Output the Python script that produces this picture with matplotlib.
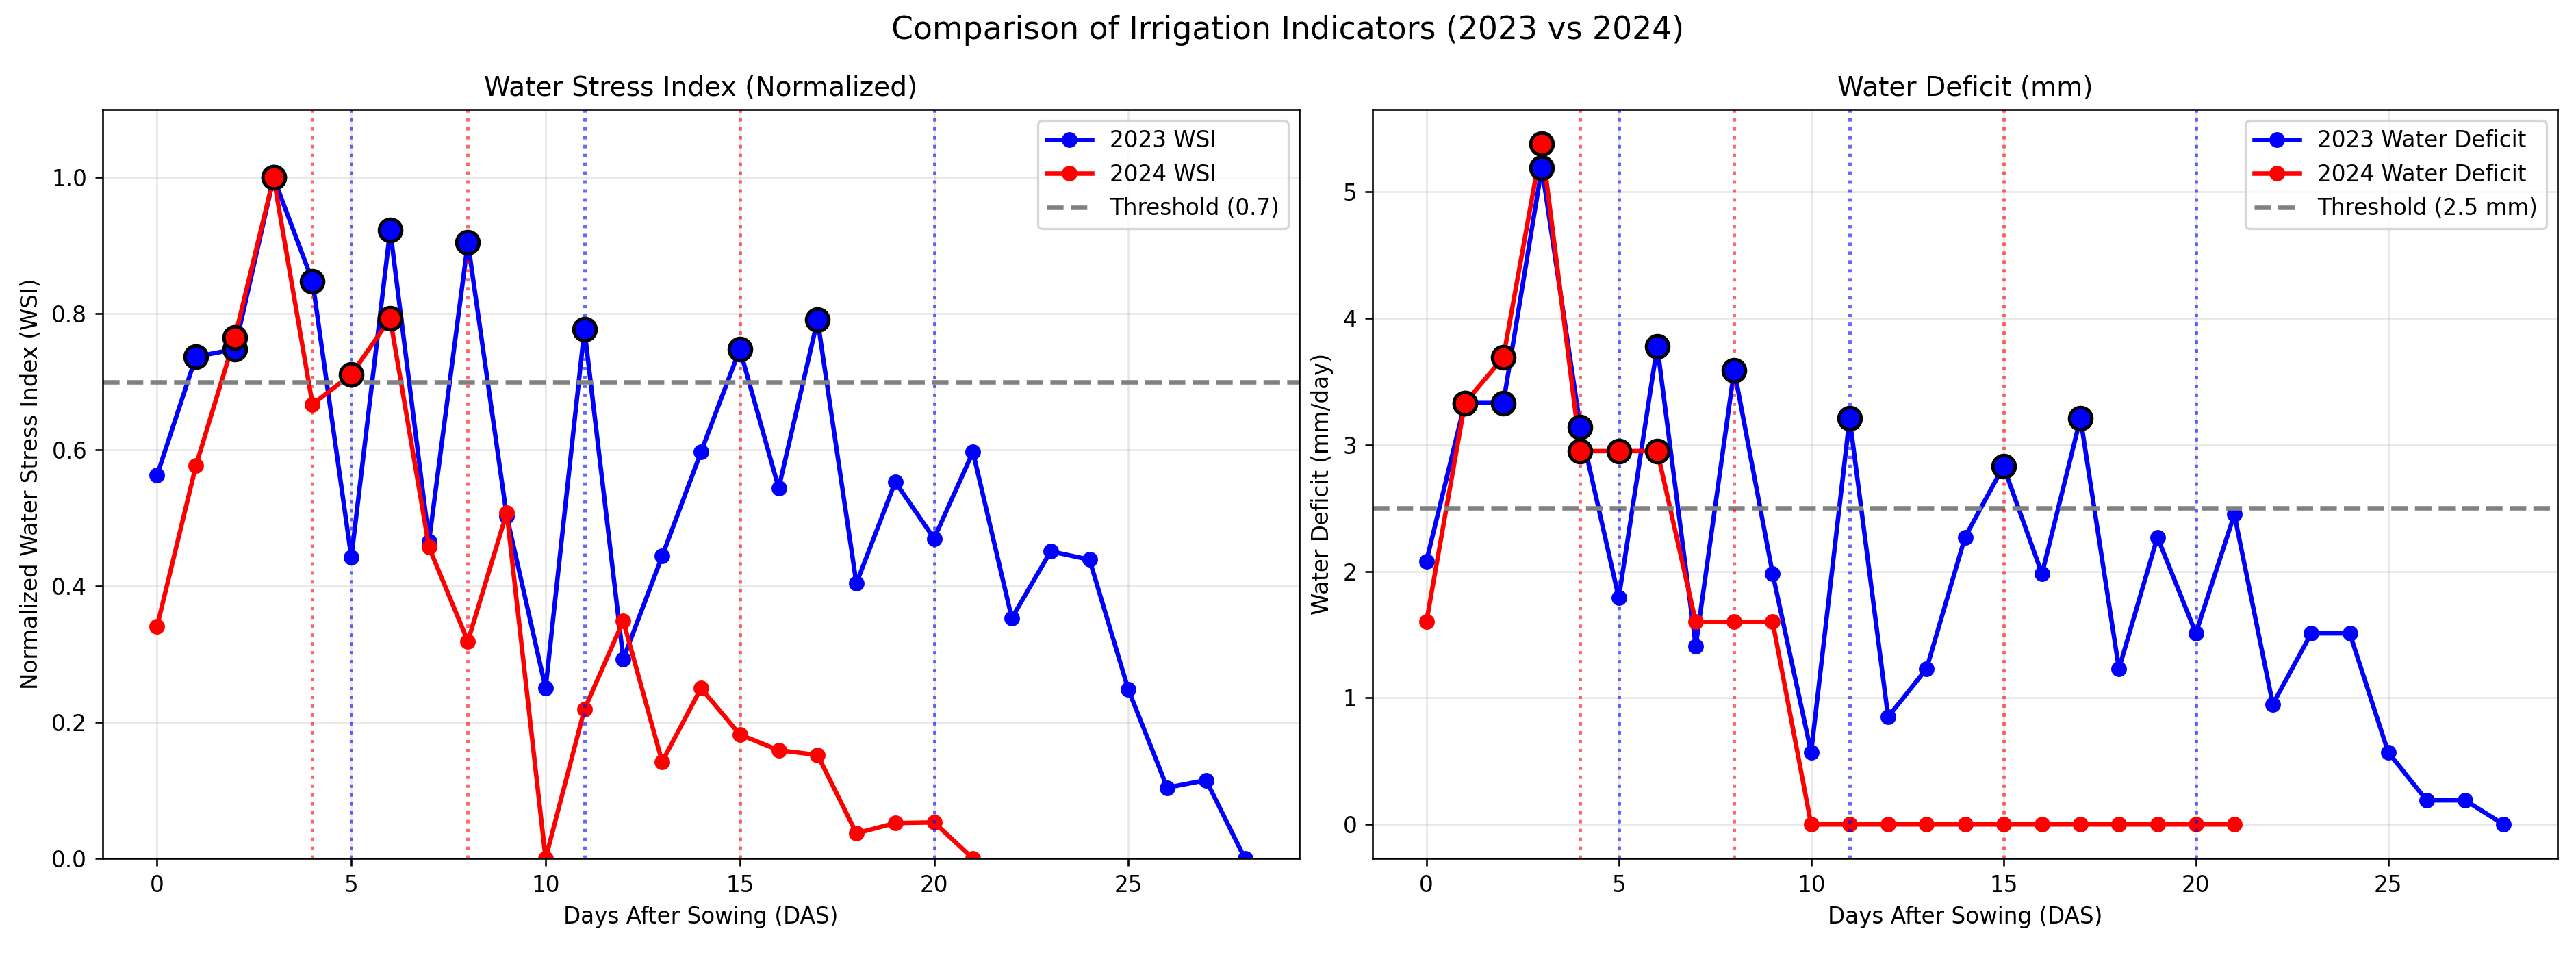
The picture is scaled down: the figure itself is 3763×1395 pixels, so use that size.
import numpy as np
import matplotlib
matplotlib.use("Agg")
import matplotlib.pyplot as plt

# Data
days_2023 = np.arange(0, 29)
days_2024 = np.arange(0, 22)

wsi_2023 = [0.563, 0.737, 0.748, 1.0, 0.848, 0.442, 0.923, 0.466, 0.905, 0.503,
            0.250, 0.777, 0.293, 0.444, 0.597, 0.748, 0.544, 0.791, 0.404, 0.553,
            0.470, 0.597, 0.353, 0.451, 0.439, 0.248, 0.104, 0.115, 0.0]
wsi_2024 = [0.341, 0.577, 0.765, 1.0, 0.667, 0.711, 0.793, 0.457, 0.319, 0.508,
            0.0, 0.219, 0.349, 0.142, 0.250, 0.182, 0.159, 0.152, 0.037, 0.052,
            0.053, 0.0]

deficit_2023 = [2.08, 3.33, 3.33, 5.19, 3.14, 1.79, 3.78, 1.41, 3.59, 1.98,
                0.57, 3.21, 0.85, 1.23, 2.27, 2.83, 1.98, 3.21, 1.23, 2.27,
                1.51, 2.45, 0.95, 1.51, 1.51, 0.57, 0.19, 0.19, 0.0]
deficit_2024 = [1.60, 3.33, 3.69, 5.38, 2.95, 2.95, 2.95, 1.60, 1.60, 1.60,
                0, 0, 0, 0, 0, 0, 0, 0, 0, 0, 0, 0]

irrigation_2023 = [5, 11, 20]
irrigation_2024 = [4, 8, 15]

wsi_threshold = 0.7
deficit_threshold = 2.5

DPI = 235
fig = plt.figure(figsize=(3763 / DPI, 1395 / DPI), dpi=DPI)
W, H = 3763, 1395
ax1 = fig.add_axes([150 / W, 141 / H, 1748 / W, 1094 / H])
ax2 = fig.add_axes([2005 / W, 141 / H, 1731 / W, 1094 / H])


def draw_panel(ax, y23, y24, thr, labels, thr_label):
    y23 = np.asarray(y23)
    y24 = np.asarray(y24)
    ax.plot(days_2023, y23, "o-", color="blue", lw=2, label=labels[0])
    ax.plot(days_2024, y24, "o-", color="red", lw=2, label=labels[1])
    # points au-dessus du seuil : gros marqueurs cerclés de noir
    m23 = y23 > thr
    m24 = y24 > thr
    ax.scatter(days_2023[m23], y23[m23], s=100, color="blue", edgecolor="black",
               linewidth=1.5, zorder=5)
    ax.scatter(days_2024[m24], y24[m24], s=100, color="red", edgecolor="black",
               linewidth=1.5, zorder=5)
    ax.axhline(thr, color="gray", linestyle="--", lw=2, label=thr_label)
    for d in irrigation_2023:
        ax.axvline(d, color="blue", linestyle=":", alpha=0.6, lw=1.5)
    for d in irrigation_2024:
        ax.axvline(d, color="red", linestyle=":", alpha=0.6, lw=1.5)
    ax.set_xlabel("Days After Sowing (DAS)")
    ax.grid(True, alpha=0.3)
    ax.legend(loc="upper right")


draw_panel(ax1, wsi_2023, wsi_2024, wsi_threshold,
           ("2023 WSI", "2024 WSI"), "Threshold (0.7)")
ax1.set_ylim(0, 1.1)
ax1.set_ylabel("Normalized Water Stress Index (WSI)")
ax1.set_title("Water Stress Index (Normalized)")

draw_panel(ax2, deficit_2023, deficit_2024, deficit_threshold,
           ("2023 Water Deficit", "2024 Water Deficit"), "Threshold (2.5 mm)")
ax2.set_ylabel("Water Deficit (mm/day)")
ax2.set_title("Water Deficit (mm)")

fig.suptitle("Comparison of Irrigation Indicators (2023 vs 2024)", fontsize=14,
             y=0.968, va="center")

fig.savefig("out.png", dpi=DPI)
